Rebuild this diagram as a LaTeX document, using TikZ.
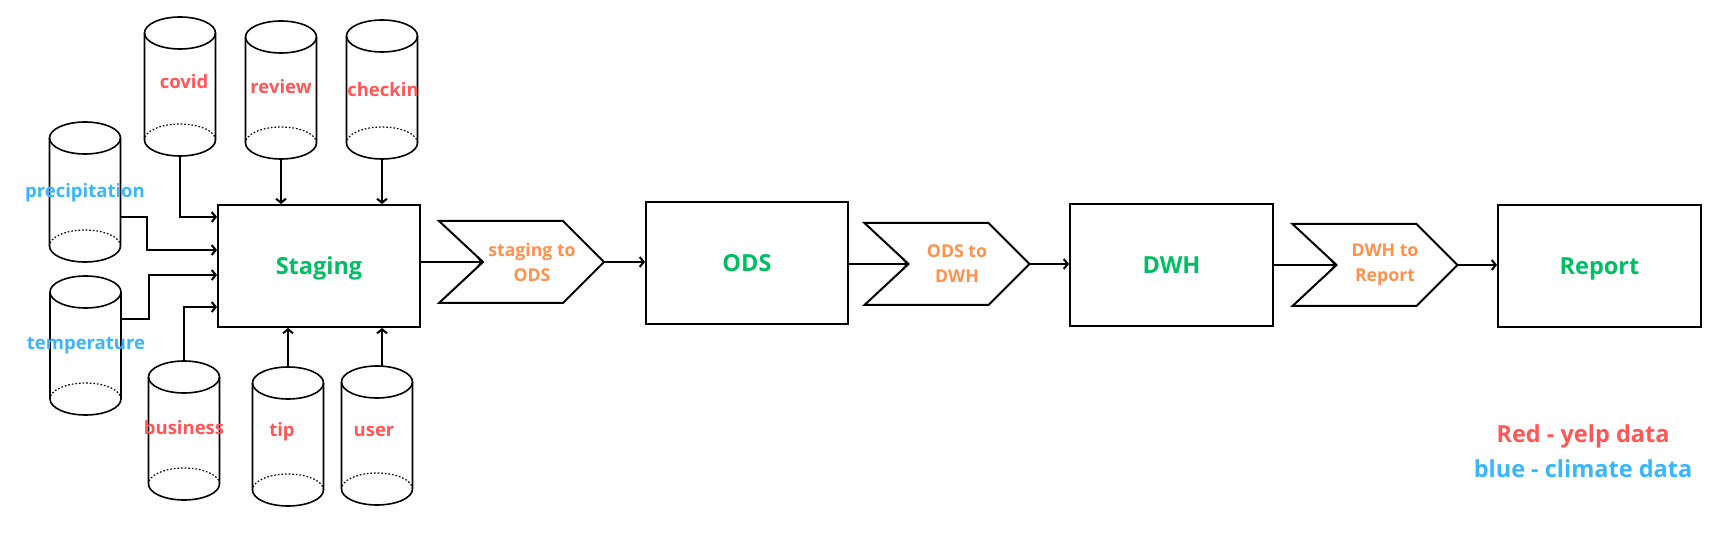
\documentclass[tikz,border=0pt]{standalone}
\usepackage{fontspec}
\setmainfont{Open Sans}
\usetikzlibrary{arrows.meta,calc}
\definecolor{cred}{RGB}{255,87,87}
\definecolor{cblue}{RGB}{56,182,255}
\definecolor{cgreen}{RGB}{0,191,99}
\definecolor{corange}{RGB}{255,145,77}
\tikzset{
 cylarea/.style={inner sep=0pt, outer sep=0pt, minimum width=71pt},
 cylline/.style={line width=1.6pt},
 cyllbl/.style={font=\fontsize{18.5}{22}\selectfont\bfseries, inner sep=0pt},
 stage/.style={draw, line width=2pt, minimum width=202pt, minimum height=122pt, inner sep=0pt, text height=17pt, text depth=0pt, text=cgreen, font=\fontsize{23.5}{28}\selectfont\bfseries},
 chevarea/.style={inner sep=0pt, outer sep=0pt, minimum width=165pt, minimum height=82pt},
 chevline/.style={line width=2pt, line join=miter},
 chevlbl/.style={text=corange, align=center, font=\fontsize{17.7}{25}\selectfont\bfseries, inner sep=0pt},
 conn/.style={line width=2pt, -{Straight Barb[length=4pt,width=10pt]}},
 legend/.style={font=\fontsize{23.5}{33}\selectfont\bfseries, inner sep=0pt}
}
\newcommand\dbcyl[8]{%
 \node[cylarea, minimum height={(#4-#3)*1pt}] (#1) at (#2,{(#3+#4)/2}) {};
 \draw[cylline] ([yshift=-16pt]#1.north west) -- ([yshift=16pt]#1.south west)
   arc[start angle=180,end angle=360,x radius=35.5pt,y radius=16pt]
   -- ([yshift=-16pt]#1.north east);
 \draw[cylline] ([yshift=-16pt]#1.north) ellipse[x radius=35.5pt,y radius=16pt];
 \draw[cylline, dotted, line width=1.2pt] ([yshift=16pt]#1.south east) arc[start angle=0,end angle=180,x radius=35.5pt,y radius=16pt];
 \node[cyllbl, text=#8] (#1-t) at (#5,#6) {#7};
}
\newcommand\chev[5]{%
 \node[chevarea] (#1) at (#2,#3) {};
 \draw[chevline] (#1.north west) -- ([xshift=-41pt]#1.north east) -- (#1.east) -- ([xshift=-41pt]#1.south east) -- (#1.south west) -- ([xshift=44pt]#1.west) -- cycle;
 \coordinate (#1-n) at ([xshift=44pt]#1.west);
 \node[chevlbl] (#1-t) at (#4,#3) {#5};
}
\begin{document}
\begin{tikzpicture}[x=1pt,y=-1pt]
\fill[white] (0,0) rectangle (1734,534);
\useasboundingbox (0,0) rectangle (1734,534);

\dbcyl{covid}{180}{17}{156}{184}{82}{covid}{cred}
\dbcyl{review}{281}{21}{159}{281}{87}{review}{cred}
\dbcyl{checkin}{382}{20}{159}{383}{90}{checkin}{cred}
\dbcyl{prec}{85}{122}{262}{85}{193}{precipitation}{cblue}
\dbcyl{temp}{85.5}{276}{415}{86}{346}{temperature}{cblue}
\dbcyl{business}{184}{361}{500}{184}{428}{business}{cred}
\dbcyl{tipdb}{288}{367}{506}{282}{432}{tip}{cred}
\dbcyl{user}{377}{366}{505}{374}{431}{user}{cred}

\node[stage] (stg) at (319,266) {Staging};
\node[stage] (ods) at (747,263) {ODS};
\node[stage, minimum width=203pt] (dwh) at (1171.5,265) {DWH};
\node[stage, minimum width=203pt] (rep) at (1599.5,266) {Report};

\chev{c1}{521.5}{262}{532}{staging to\\ODS}
\chev{c2}{947}{264}{957}{ODS to\\DWH}
\chev{c3}{1375}{265}{1385}{DWH to\\Report}

% sources into staging
\draw[conn] (covid.south) |- ([yshift=-13pt]stg.north west);
\draw[conn] ([yshift=-25pt]prec.east) -- ++(26,0) |- ([yshift=-46pt]stg.north west);
\draw[conn] ([yshift=26.5pt]temp.east) -- ++(28,0) |- ([yshift=-71pt]stg.north west);
\draw[conn] (business.north) |- ([yshift=21pt]stg.south west);
\draw[conn] (review.south) -- (review.south |- stg.north);
\draw[conn] (checkin.south) -- (checkin.south |- stg.north);
\draw[conn] (tipdb.north) -- (tipdb.north |- stg.south);
\draw[conn] ([xshift=5pt]user.north) -- ([xshift=5pt]user.north |- stg.south);

% pipeline
\draw[conn] (stg.east |- c1-n) -- (c1-n);
\draw[conn] (c1.east) -- (ods.west |- c1.east);
\draw[conn] (ods.east |- c2-n) -- (c2-n);
\draw[conn] (c2.east) -- (dwh.west |- c2.east);
\draw[conn] (dwh.east |- c3-n) -- (c3-n);
\draw[conn] (c3.east) -- (rep.west |- c3.east);

\node[legend, text=cred] (lg1) at (1583,436) {Red - yelp data};
\node[legend, text=cblue] (lg2) at (1583,469) {blue - climate data};
\end{tikzpicture}
\end{document}
